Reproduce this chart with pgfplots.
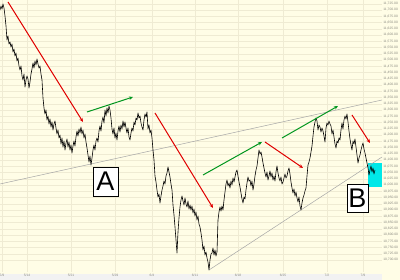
\documentclass[border=0pt]{standalone}
\usepackage{pgfplots}
\pgfplotsset{compat=1.18}
\usepackage{pgfplotstable}
\usepackage{fontspec}
\setmainfont{Liberation Sans}
\usetikzlibrary{arrows.meta}
\definecolor{cream}{HTML}{FFFDE6}
\definecolor{gridcol}{HTML}{EFEBD3}
\definecolor{labcol}{HTML}{8A8A80}
\definecolor{arrred}{HTML}{E00000}
\definecolor{arrgreen}{HTML}{00961E}
\definecolor{cyanbox}{HTML}{00E8E8}

\pgfplotstableread{
x p
0 11700
1 11716
2 11704
3 11724
4 11708
5 11676
6 11636
7 11580
8 11596
9 11564
10 11572
11 11552
12 11564
13 11532
14 11544
15 11516
16 11528
17 11496
18 11508
19 11476
20 11460
21 11476
22 11436
23 11420
24 11444
25 11392
26 11420
27 11436
28 11424
29 11388
30 11412
31 11444
32 11464
33 11488
34 11468
35 11496
36 11480
37 11504
38 11484
39 11468
40 11476
41 11444
42 11420
43 11348
44 11308
45 11284
46 11300
47 11260
48 11276
49 11244
50 11264
51 11232
52 11252
53 11220
54 11244
55 11256
56 11228
57 11204
58 11220
59 11188
60 11200
61 11164
62 11188
63 11152
64 11176
65 11140
66 11168
67 11184
68 11152
69 11172
70 11140
71 11160
72 11128
73 11156
74 11176
75 11156
76 11192
77 11216
78 11196
79 11224
80 11208
81 11232
82 11204
83 11220
84 11188
85 11204
86 11172
87 11148
88 11120
89 11092
90 11116
91 11080
92 11108
93 11140
94 11160
95 11140
96 11176
97 11188
98 11172
99 11216
100 11236
101 11216
102 11256
103 11272
104 11248
105 11300
106 11276
107 11308
108 11288
109 11316
110 11300
111 11268
112 11224
113 11204
114 11228
115 11188
116 11208
117 11180
118 11216
119 11236
120 11212
121 11240
122 11224
123 11256
124 11232
125 11252
126 11228
127 11208
128 11228
129 11192
130 11180
131 11208
132 11228
133 11216
134 11252
135 11240
136 11268
137 11260
138 11288
139 11268
140 11276
141 11248
142 11232
143 11220
144 11260
145 11284
146 11272
147 11292
148 11224
149 11240
150 11208
151 11220
152 11188
153 11140
154 11100
155 11036
156 11012
157 10980
158 10952
159 10964
160 10928
161 10956
162 10980
163 10996
164 11016
165 11004
166 11036
167 11048
168 11072
169 11052
170 11032
171 11004
172 10980
173 10920
174 10880
175 10832
176 10780
177 10728
178 10812
179 10868
180 10912
181 10940
182 10956
183 10936
184 10920
185 10948
186 10924
187 10912
188 10936
189 10904
190 10920
191 10900
192 10916
193 10888
194 10904
195 10876
196 10892
197 10860
198 10876
199 10844
200 10832
201 10808
202 10780
203 10740
204 10756
205 10720
206 10732
207 10708
208 10692
209 10660
210 10700
211 10724
212 10728
213 10748
214 10720
215 10740
216 10716
217 10732
218 10860
219 10892
220 10912
221 10896
222 10916
223 10900
224 10940
225 10972
226 11004
227 11020
228 10996
229 11008
230 10988
231 11016
232 11000
233 11028
234 11012
235 11032
236 11052
237 11060
238 11036
239 11012
240 10992
241 10968
242 10944
243 10928
244 10952
245 10944
246 10980
247 11008
248 11032
249 11016
250 11020
251 10996
252 11016
253 10980
254 11004
255 11036
256 11060
257 11076
258 11108
259 11140
260 11124
261 11132
262 11112
263 11088
264 11068
265 11048
266 11032
267 11052
268 11020
269 11036
270 11056
271 11032
272 11048
273 11020
274 11036
275 11016
276 11052
277 11076
278 11048
279 11028
280 11016
281 11032
282 11004
283 11012
284 11028
285 11044
286 11028
287 11036
288 11056
289 11068
290 11044
291 11012
292 10988
293 10968
294 10984
295 10956
296 10972
297 10948
298 10932
299 10952
300 10916
301 10900
302 10928
303 10948
304 10960
305 10976
306 10988
307 11036
308 11080
309 11092
310 11108
311 11132
312 11156
313 11196
314 11232
315 11252
316 11268
317 11256
318 11220
319 11240
320 11232
321 11212
322 11228
323 11216
324 11196
325 11172
326 11228
327 11248
328 11240
329 11256
330 11244
331 11236
332 11204
333 11220
334 11192
335 11164
336 11148
337 11176
338 11168
339 11188
340 11180
341 11220
342 11248
343 11224
344 11260
345 11276
346 11264
347 11284
348 11252
349 11216
350 11184
351 11160
352 11140
353 11176
354 11164
355 11184
356 11152
357 11120
358 11088
359 11108
360 11120
361 11140
362 11156
363 11168
364 11144
365 11128
366 11108
367 11088
368 11068
369 11040
370 11060
371 11076
372 11052
373 11068
374 11044
375 11060
}\pricedata

\begin{document}
\begin{tikzpicture}
\fill[cream] (0,-8pt) rectangle (400pt,272pt);
\fill[black!5] (0,-8pt) rectangle (382pt,-2pt);
\begin{axis}[
  at={(0,0)}, anchor=south west,
  width=382pt, height=272pt, scale only axis,
  xmin=0, xmax=382, ymin=10652, ymax=11740,
  axis line style={draw=none},
  axis background/.style={fill=cream},
  xtick={2,27,71,115,152,195,238,283,327,363},
  xticklabels={5/9,5/14,5/21,5/29,6/4,6/11,6/18,6/25,7/2,7/9},
  ytick={10700,10725,...,11725},
  scaled y ticks=false,
  yticklabel pos=right,
  major tick length=0pt,
  grid=major,
  major grid style={color=gridcol, line width=0.35pt},
  tick label style={font=\fontsize{3.3}{4}\selectfont, text=labcol},
  xticklabel style={yshift=1.5pt},
  yticklabel style={inner sep=0.6pt, xshift=0.6pt},
  /pgf/number format/assume math mode=true,
  yticklabel={\pgfmathprintnumber[fixed, fixed zerofill, precision=2, 1000 sep={,}]{\tick}},
  clip=true,
]
% cyan highlight
\addplot[draw=none, fill=cyanbox] coordinates {(368,11088) (382,11088) (382,10992) (368,10992)} --cycle;
% gray trend lines
\addplot[gray!70, line width=0.5pt] coordinates {(0,11004) (382,11340)};
\addplot[gray!70, line width=0.5pt] coordinates {(209,10660) (382,11112)};
% price
\addplot[black, line width=0.6pt, line join=round] table[x=x, y=p] {\pricedata};
% red arrows
\addplot[arrred, line width=1pt, -{Stealth[length=4pt,width=3.5pt]}] coordinates {(8,11732) (83,11252)};
\addplot[arrred, line width=1pt, -{Stealth[length=4pt,width=3.5pt]}] coordinates {(155,11288) (213,10908)};
\addplot[arrred, line width=1pt, -{Stealth[length=4pt,width=3.5pt]}] coordinates {(265,11172) (303,11068)};
\addplot[arrred, line width=1pt, -{Stealth[length=4pt,width=3.5pt]}] coordinates {(352,11280) (370,11168)};
% green arrows
\addplot[arrgreen, line width=1pt, -{Stealth[length=4pt,width=3.5pt]}] coordinates {(87,11292) (133,11352)};
\addplot[arrgreen, line width=1pt, -{Stealth[length=4pt,width=3.5pt]}] coordinates {(203,11040) (262,11172)};
\addplot[arrgreen, line width=1pt, -{Stealth[length=4pt,width=3.5pt]}] coordinates {(282,11188) (338,11316)};
% label boxes
\draw[fill=white, draw=black, line width=0.6pt] (axis cs:93,11072) rectangle (axis cs:118,10956);
\node[font=\fontsize{27}{27}\selectfont, inner sep=0pt] at (axis cs:105.5,11014) {A};
\draw[fill=white, draw=black, line width=0.6pt] (axis cs:347,11004) rectangle (axis cs:368,10892);
\node[font=\fontsize{27}{27}\selectfont, inner sep=0pt] at (axis cs:357.5,10948) {B};
\end{axis}
\pgfresetboundingbox
\path (0,-8pt) rectangle (400pt,272pt);
\end{tikzpicture}
\end{document}
